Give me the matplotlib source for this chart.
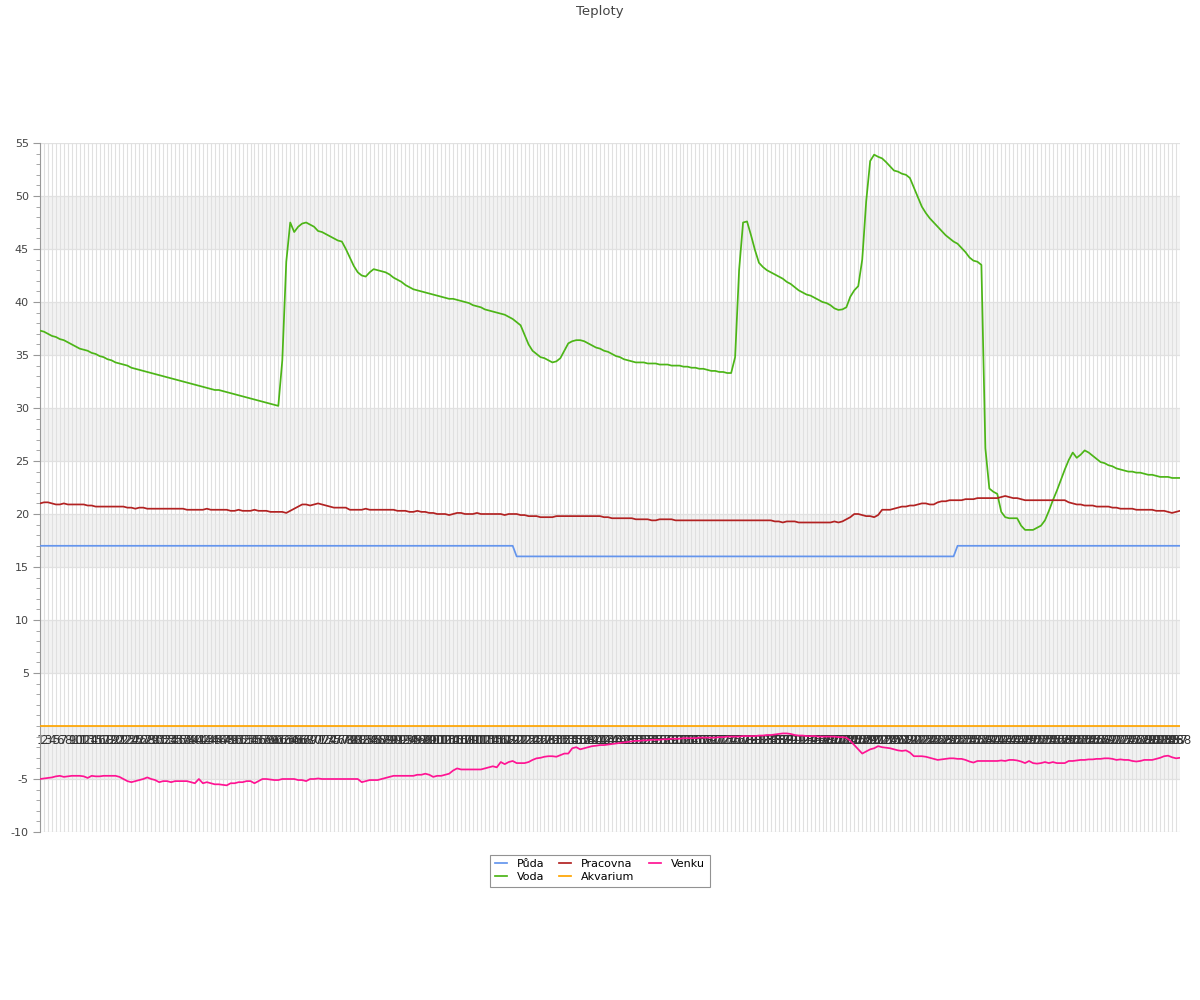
import matplotlib
matplotlib.use('Agg')
import matplotlib.pyplot as plt
from matplotlib.ticker import MultipleLocator
import numpy as np

plt.rcParams['axes.unicode_minus'] = False

# one reading every 5 minutes, 288 per day
labels = [str(i) for i in range(1, 289)]

puda = [17.0] * 120 + [16.0] * 111 + [17.0] * 57

voda = [
  37.3, 37.2, 37.0, 36.8, 36.7, 36.5, 36.4, 36.2, 36.0, 35.8, 35.6,
  35.5, 35.4, 35.2, 35.1, 34.9, 34.8, 34.6, 34.5, 34.3, 34.2,
  34.1, 34.0, 33.8, 33.7, 33.6, 33.5, 33.4, 33.3, 33.2, 33.1,
  33.0, 32.9, 32.8, 32.7, 32.6, 32.5, 32.4, 32.3, 32.2, 32.1,
  32.0, 31.9, 31.8, 31.7, 31.7, 31.6, 31.5, 31.4, 31.3, 31.2,
  31.1, 31.0, 30.9, 30.8, 30.7, 30.6, 30.5, 30.4, 30.3, 30.2,
  34.5, 43.8, 47.5, 46.6, 47.1, 47.4, 47.5, 47.3, 47.1, 46.7,
  46.6, 46.4, 46.2, 46.0, 45.8, 45.7, 45.0, 44.2, 43.4, 42.8,
  42.5, 42.4, 42.8, 43.1, 43.0, 42.9, 42.8, 42.6, 42.3, 42.1,
  41.9, 41.6, 41.4, 41.2, 41.1, 41.0, 40.9, 40.8, 40.7, 40.6,
  40.5, 40.4, 40.3, 40.3, 40.2, 40.1, 40.0, 39.9, 39.7, 39.6,
  39.5, 39.3, 39.2, 39.1, 39.0, 38.9, 38.8, 38.6, 38.4, 38.1,
  37.8, 36.9, 36.0, 35.4, 35.1, 34.8, 34.7, 34.5, 34.3, 34.4,
  34.7, 35.4, 36.1, 36.3, 36.4, 36.4, 36.3, 36.1, 35.9, 35.7,
  35.6, 35.4, 35.3, 35.1, 34.9, 34.8, 34.6, 34.5, 34.4, 34.3,
  34.3, 34.3, 34.2, 34.2, 34.2, 34.1, 34.1, 34.1, 34.0, 34.0,
  34.0, 33.9, 33.9, 33.8, 33.8, 33.7, 33.7, 33.6, 33.5, 33.5,
  33.4, 33.4, 33.3, 33.3, 34.8, 43.0, 47.5, 47.6, 46.3, 44.9,
  43.7, 43.3, 43.0, 42.8, 42.6, 42.4, 42.2, 41.9, 41.7, 41.4,
  41.1, 40.9, 40.7, 40.6, 40.4, 40.2, 40.0, 39.9, 39.7, 39.4,
  39.25, 39.3, 39.5, 40.5, 41.1, 41.5, 44.0, 49.5, 53.3, 53.9,
  53.7, 53.55, 53.2, 52.8, 52.4, 52.3, 52.1, 52.0, 51.7, 50.8,
  49.9, 49.0, 48.4, 47.9, 47.5, 47.1, 46.7, 46.3, 46.0, 45.7,
  45.5, 45.1, 44.7, 44.2, 43.9, 43.8, 43.5, 26.2, 22.4, 22.1,
  21.9, 20.2, 19.7, 19.6, 19.6, 19.6, 18.9, 18.5, 18.5, 18.5,
  18.7, 18.9, 19.4, 20.3, 21.3, 22.2, 23.2, 24.2, 25.1, 25.8,
  25.3, 25.6, 26.0, 25.8, 25.5, 25.2, 24.9, 24.8, 24.6, 24.5,
  24.3, 24.2, 24.1, 24.0, 24.0, 23.9, 23.9, 23.8, 23.7, 23.7,
  23.6, 23.5, 23.5, 23.5, 23.4, 23.4, 23.4,
]

pracovna = [
  21.0, 21.1, 21.1, 21.0, 20.9, 20.9, 21.0, 20.9, 20.9, 20.9, 20.9,
  20.9, 20.8, 20.8, 20.7, 20.7, 20.7, 20.7, 20.7, 20.7, 20.7,
  20.7, 20.6, 20.6, 20.5, 20.6, 20.6, 20.5, 20.5, 20.5, 20.5,
  20.5, 20.5, 20.5, 20.5, 20.5, 20.5, 20.4, 20.4, 20.4, 20.4,
  20.4, 20.5, 20.4, 20.4, 20.4, 20.4, 20.4, 20.3, 20.3, 20.4,
  20.3, 20.3, 20.3, 20.4, 20.3, 20.3, 20.3, 20.2, 20.2, 20.2,
  20.2, 20.1, 20.3, 20.5, 20.7, 20.9, 20.9, 20.8, 20.9, 21.0,
  20.9, 20.8, 20.7, 20.6, 20.6, 20.6, 20.6, 20.4, 20.4, 20.4,
  20.4, 20.5, 20.4, 20.4, 20.4, 20.4, 20.4, 20.4, 20.4, 20.3,
  20.3, 20.3, 20.2, 20.2, 20.3, 20.2, 20.2, 20.1, 20.1, 20.0,
  20.0, 20.0, 19.9, 20.0, 20.1, 20.1, 20.0, 20.0, 20.0, 20.1,
  20.0, 20.0, 20.0, 20.0, 20.0, 20.0, 19.9, 20.0, 20.0, 20.0,
  19.9, 19.9, 19.8, 19.8, 19.8, 19.7, 19.7, 19.7, 19.7, 19.8,
  19.8, 19.8, 19.8, 19.8, 19.8, 19.8, 19.8, 19.8, 19.8, 19.8,
  19.8, 19.7, 19.7, 19.6, 19.6, 19.6, 19.6, 19.6, 19.6, 19.5,
  19.5, 19.5, 19.5, 19.4, 19.4, 19.5, 19.5, 19.5, 19.5, 19.4,
  19.4, 19.4, 19.4, 19.4, 19.4, 19.4, 19.4, 19.4, 19.4, 19.4,
  19.4, 19.4, 19.4, 19.4, 19.4, 19.4, 19.4, 19.4, 19.4, 19.4,
  19.4, 19.4, 19.4, 19.4, 19.3, 19.3, 19.2, 19.3, 19.3, 19.3,
  19.2, 19.2, 19.2, 19.2, 19.2, 19.2, 19.2, 19.2, 19.2, 19.3,
  19.2, 19.3, 19.5, 19.7, 20.0, 20.0, 19.9, 19.8, 19.8, 19.7,
  19.9, 20.4, 20.4, 20.4, 20.5, 20.6, 20.7, 20.7, 20.8, 20.8,
  20.9, 21.0, 21.0, 20.9, 20.9, 21.1, 21.2, 21.2, 21.3, 21.3,
  21.3, 21.3, 21.4, 21.4, 21.4, 21.5, 21.5, 21.5, 21.5, 21.5,
  21.5, 21.6, 21.7, 21.6, 21.5, 21.5, 21.4, 21.3, 21.3, 21.3,
  21.3, 21.3, 21.3, 21.3, 21.3, 21.3, 21.3, 21.3, 21.1, 21.0,
  20.9, 20.9, 20.8, 20.8, 20.8, 20.7, 20.7, 20.7, 20.7, 20.6,
  20.6, 20.5, 20.5, 20.5, 20.5, 20.4, 20.4, 20.4, 20.4, 20.4,
  20.3, 20.3, 20.3, 20.2, 20.1, 20.2, 20.3,
]

akvarium = [0.0] * 288

venku = [
  -5.0, -4.95, -4.9, -4.85, -4.75, -4.7, -4.8, -4.75, -4.7, -4.7, -4.7,
  -4.75, -4.9, -4.7, -4.75, -4.75, -4.7, -4.7, -4.7, -4.7, -4.8,
  -5.0, -5.2, -5.3, -5.2, -5.1, -5.0, -4.85, -5.0, -5.1, -5.3,
  -5.2, -5.2, -5.3, -5.2, -5.2, -5.2, -5.2, -5.3, -5.4, -5.0,
  -5.4, -5.3, -5.4, -5.5, -5.5, -5.55, -5.6, -5.4, -5.4, -5.3,
  -5.3, -5.2, -5.2, -5.4, -5.2, -5.0, -5.0, -5.05, -5.1, -5.1,
  -5.0, -5.0, -5.0, -5.0, -5.1, -5.1, -5.2, -5.0, -5.0, -4.95,
  -5.0, -5.0, -5.0, -5.0, -5.0, -5.0, -5.0, -5.0, -5.0, -5.0,
  -5.3, -5.2, -5.1, -5.1, -5.1, -5.0, -4.9, -4.8, -4.7, -4.7,
  -4.7, -4.7, -4.7, -4.7, -4.6, -4.6, -4.5, -4.6, -4.8, -4.7,
  -4.7, -4.6, -4.5, -4.2, -4.0, -4.1, -4.1, -4.1, -4.1, -4.1,
  -4.1, -4.0, -3.9, -3.8, -3.9, -3.4, -3.6, -3.4, -3.3, -3.5,
  -3.5, -3.5, -3.4, -3.2, -3.05, -3.0, -2.9, -2.85, -2.85, -2.9,
  -2.75, -2.6, -2.6, -2.1, -2.0, -2.2, -2.1, -2.0, -1.9, -1.86,
  -1.8, -1.8, -1.75, -1.7, -1.65, -1.6, -1.55, -1.5, -1.45, -1.4,
  -1.4, -1.35, -1.35, -1.3, -1.3, -1.3, -1.25, -1.25, -1.2, -1.2,
  -1.2, -1.15, -1.15, -1.15, -1.15, -1.1, -1.1, -1.1, -1.1, -1.1,
  -1.05, -1.05, -1.0, -1.0, -1.0, -1.0, -0.95, -0.95, -0.95, -0.95,
  -0.9, -0.9, -0.85, -0.85, -0.8, -0.75, -0.7, -0.7, -0.75, -0.85,
  -0.9, -0.9, -0.95, -0.95, -0.95, -1.0, -1.0, -1.0, -1.0, -1.0,
  -1.05, -1.05, -1.1, -1.4, -1.8, -2.2, -2.6, -2.4, -2.2, -2.1,
  -1.9, -2.0, -2.05, -2.1, -2.2, -2.3, -2.35, -2.3, -2.5, -2.85,
  -2.85, -2.85, -2.9, -3.0, -3.1, -3.2, -3.15, -3.1, -3.05, -3.05,
  -3.1, -3.1, -3.2, -3.35, -3.45, -3.3, -3.3, -3.3, -3.3, -3.3,
  -3.3, -3.25, -3.3, -3.2, -3.2, -3.25, -3.35, -3.5, -3.3, -3.5,
  -3.55, -3.5, -3.4, -3.5, -3.4, -3.5, -3.5, -3.5, -3.3, -3.3,
  -3.25, -3.2, -3.2, -3.15, -3.15, -3.1, -3.1, -3.05, -3.05, -3.1,
  -3.2, -3.15, -3.2, -3.2, -3.3, -3.35, -3.3, -3.2, -3.2, -3.2,
  -3.1, -3.0, -2.85, -2.8, -2.95, -3.05, -3.0,
]

names = ['Půda', 'Voda', 'Pracovna', 'Akvarium', 'Venku']
colors = ['#6495ed', '#4cb517', '#b22222', '#ffa500', '#ff1493']
series = [puda, voda, pracovna, akvarium, venku]

fig = plt.figure(figsize=(12, 10), dpi=100)
ax = fig.add_axes([40 / 1200, 0.168, 1140 / 1200, 0.689])

x = np.arange(len(labels))

# alternating grey bands every 5 degrees
for lo in [45, 35, 25, 15, 5, -5]:
  ax.axhspan(lo, lo + 5, color='#f2f2f2', zorder=0, lw=0)

for v in range(-10, 56, 5):
  ax.axhline(v, color='#e2e2e2', lw=0.9, zorder=1)
for i in x:
  ax.axvline(i, color='#e0e0e0', lw=0.8, zorder=1)

for name, col, ys in zip(names, colors, series):
  ax.plot(x, ys, color=col, lw=1.25, label=name, zorder=3)

ax.set_xlim(0, len(labels) - 1)
ax.set_ylim(-10, 55)

ax.set_yticks([-10, -5, 5, 10, 15, 20, 25, 30, 35, 40, 45, 50, 55])
ax.yaxis.set_minor_locator(MultipleLocator(1))
ax.tick_params(axis='y', which='major', length=5, color='#999999',
               labelsize=8, labelcolor='#444444', pad=3)
ax.tick_params(axis='y', which='minor', length=3, color='#999999')

ax.set_xticks(x)
ax.set_xticklabels(labels)
ax.spines['bottom'].set_position(('data', 0))
ax.spines['bottom'].set_visible(False)
ax.tick_params(axis='x', length=0, labelsize=8.5, labelcolor='#333333', pad=6)

for s in ['top', 'right']:
  ax.spines[s].set_visible(False)
ax.spines['left'].set_color('#999999')

fig.text(0.5, 1 - 11 / 1000, 'Teploty', ha='center', va='center',
         fontsize=9.5, color='#444444')

leg = fig.legend(loc='upper center', bbox_to_anchor=(0.5, 1 - 849 / 1000),
                 ncol=3, fontsize=8, frameon=True, fancybox=False,
                 handlelength=1.1, handletextpad=0.9, columnspacing=1.3,
                 borderpad=0.4, labelspacing=0.3)
leg.get_frame().set_edgecolor('#777777')
leg.get_frame().set_linewidth(0.8)

fig.savefig('out.png', dpi=100)
